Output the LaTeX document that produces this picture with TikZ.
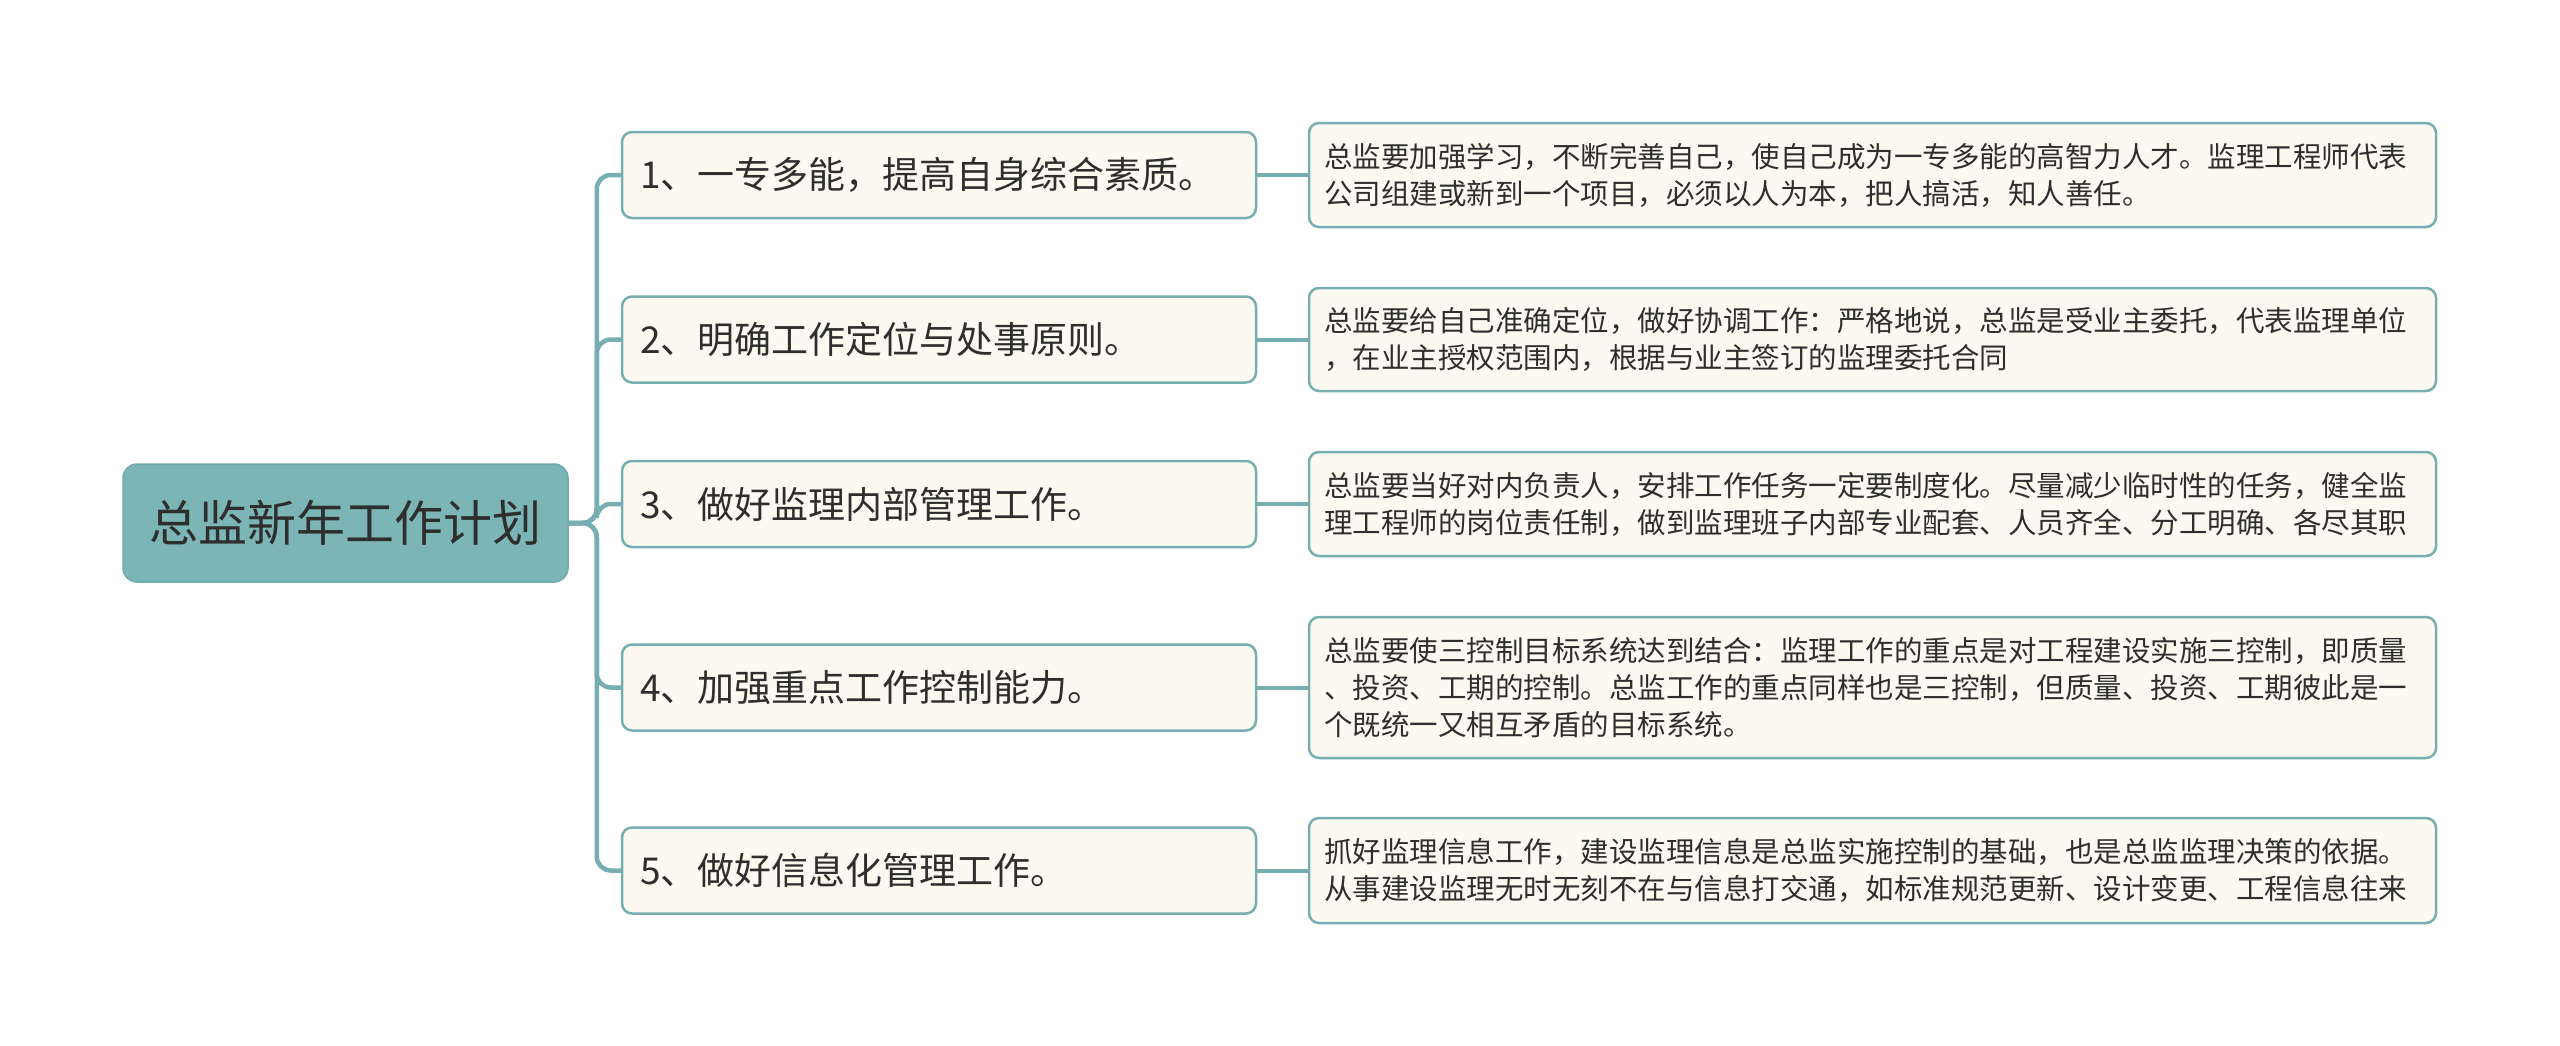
\documentclass[tikz,border=0pt]{standalone}
\usepackage{fontspec}
\setmainfont{Noto Sans CJK SC}
\definecolor{rootc}{HTML}{7BB5B5}
\definecolor{rootb}{HTML}{6FA9AB}
\definecolor{linec}{HTML}{76AEB1}
\definecolor{boxc}{HTML}{FCFAF0}
\definecolor{textc}{HTML}{2E2E2E}
\begin{document}
\begin{tikzpicture}[x=1pt,y=-1pt,
  rootbox/.style={rectangle, rounded corners=14pt, fill=rootc, draw=rootb, line width=1.5pt,
    minimum width=445pt, minimum height=118pt, inner sep=0pt, text=textc,
    font=\fontsize{49}{58}\selectfont},
  lvone/.style={rectangle, rounded corners=10pt, fill=boxc, draw=linec, line width=2.5pt,
    minimum height=86pt, text width=598pt, inner xsep=18pt, inner ysep=0pt, align=left,
    text=textc, font=\fontsize{37}{44}\selectfont},
  lvtwo/.style={rectangle, rounded corners=10pt, fill=boxc, draw=linec, line width=2.5pt,
    text width=1097pt, inner xsep=15pt, inner ysep=0pt, align=left,
    text=textc, font=\fontsize{28.5}{37}\selectfont},
  conn/.style={draw=linec, line width=4.5pt, rounded corners=14pt},
  conntwo/.style={draw=linec, line width=4pt}
]
\useasboundingbox (0,0) rectangle (2560,1045);

\node[rootbox] (root) at (345.5,523) {总监新年工作计划};

\node[lvone] (b1) at (939,175) {1、一专多能，提高自身综合素质。};
\node[lvone] (b2) at (939,339.5) {2、明确工作定位与处事原则。};
\node[lvone] (b3) at (939,504) {3、做好监理内部管理工作。};
\node[lvone] (b4) at (939,687.5) {4、加强重点工作控制能力。};
\node[lvone] (b5) at (939,870.5) {5、做好信息化管理工作。};

\node[lvtwo, minimum height=104pt] (c1) at (1872.5,175) {总监要加强学习，不断完善自己，使自己成为一专多能的高智力人才。监理工程师代表\\公司组建或新到一个项目，必须以人为本，把人搞活，知人善任。};
\node[lvtwo, minimum height=103pt] (c2) at (1872.5,339.5) {总监要给自己准确定位，做好协调工作：严格地说，总监是受业主委托，代表监理单位\\，在业主授权范围内，根据与业主签订的监理委托合同};
\node[lvtwo, minimum height=104pt] (c3) at (1872.5,504) {总监要当好对内负责人，安排工作任务一定要制度化。尽量减少临时性的任务，健全监\\理工程师的岗位责任制，做到监理班子内部专业配套、人员齐全、分工明确、各尽其职};
\node[lvtwo, minimum height=141pt] (c4) at (1872.5,687.5) {总监要使三控制目标系统达到结合：监理工作的重点是对工程建设实施三控制，即质量\\、投资、工期的控制。总监工作的重点同样也是三控制，但质量、投资、工期彼此是一\\个既统一又相互矛盾的目标系统。};
\node[lvtwo, minimum height=105pt] (c5) at (1872.5,870.5) {抓好监理信息工作，建设监理信息是总监实施控制的基础，也是总监监理决策的依据。\\从事建设监理无时无刻不在与信息打交通，如标准规范更新、设计变更、工程信息往来};

\foreach \b in {b1,b2,b3,b4,b5}{
  \draw[conn] (root.east) -- ++(28,0) |- (\b.west);
}
\draw[conntwo] (b1.east) -- (c1.west);
\draw[conntwo] (b2.east) -- (c2.west);
\draw[conntwo] (b3.east) -- (c3.west);
\draw[conntwo] (b4.east) -- (c4.west);
\draw[conntwo] (b5.east) -- (c5.west);
\end{tikzpicture}
\end{document}
